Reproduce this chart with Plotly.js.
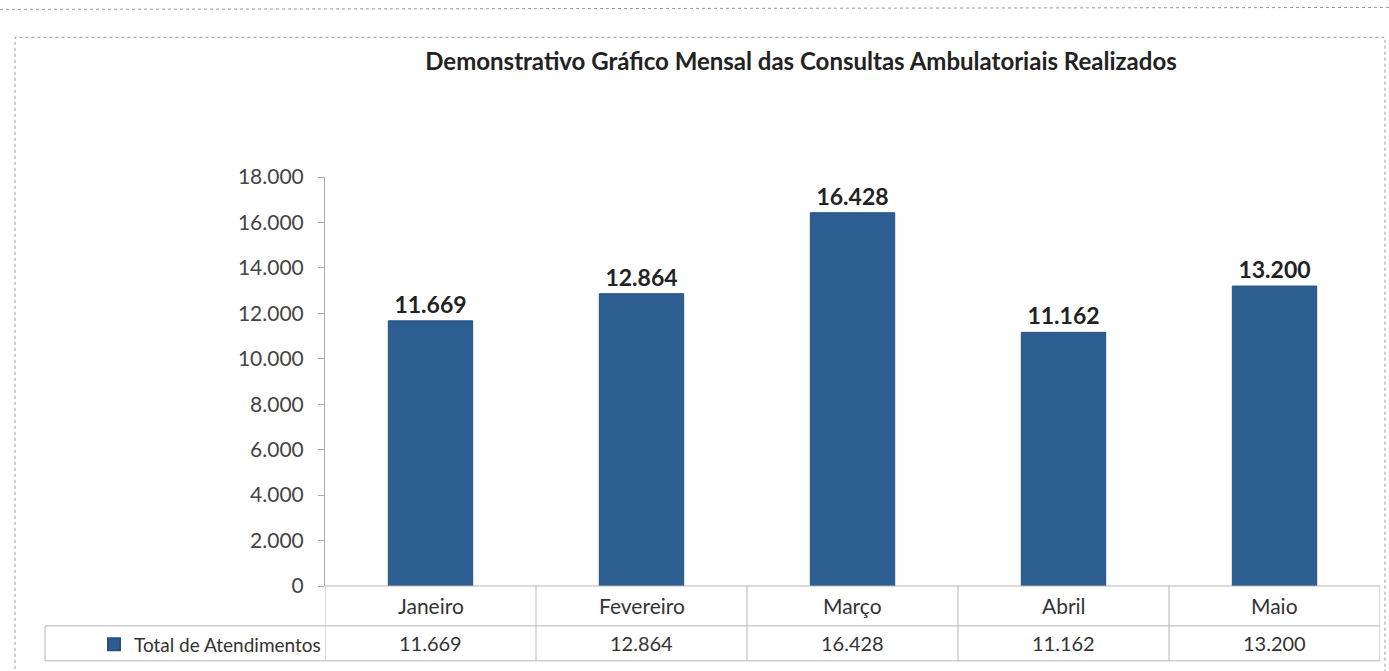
<!DOCTYPE html>
<html><head><meta charset="utf-8">
<script src="https://cdn.plot.ly/plotly-3.0.1.min.js"></script>
<style>html,body{margin:0;padding:0;background:#fff}#c{width:1389px;height:671px}</style>
</head><body><div id="c"></div>
<script>
const months = ["Janeiro","Fevereiro","Março","Abril","Maio"];
const totals = [11669, 12864, 16428, 11162, 13200];
const seriesName = "Total de Atendimentos";
const yTicks = [0,2000,4000,6000,8000,10000,12000,14000,16000,18000];
const titleText = "Demonstrativo Gráfico Mensal das Consultas Ambulatoriais Realizados";

const W = 1389, H = 671, mL = 325, mR = 9, mT = 177, mB = 84;
const pw = W - mL - mR, ph = H - mT - mB;
const px = x => (x - mL) / pw;           // pixel -> paper x
const py = y => (H - mB - y) / ph;       // pixel -> paper y
const FONT = "Lato, 'Open Sans', sans-serif";
const grid = {color: "#b5b5b5", width: 1};

const shapes = [];
shapes.push({type:"rect", xref:"paper", yref:"paper", x0:px(15), x1:px(1385), y0:py(690), y1:py(37),
  line:{color:"#9a9a9a", width:1, dash:"dot"}});
shapes.push({type:"line", xref:"paper", yref:"paper", x0:px(0), x1:px(1389), y0:py(9), y1:py(7),
  line:{color:"#9a9a9a", width:1, dash:"dot"}});
const hTop = 0, hMid = py(627), hBot = py(662);
shapes.push({type:"line", xref:"paper", yref:"paper", x0:0, x1:1, y0:hTop, y1:hTop, line:grid});
shapes.push({type:"line", xref:"paper", yref:"paper", x0:px(45), x1:1, y0:hMid, y1:hMid, line:grid});
shapes.push({type:"line", xref:"paper", yref:"paper", x0:px(45), x1:1, y0:hBot, y1:hBot, line:grid});
shapes.push({type:"line", xref:"paper", yref:"paper", x0:px(45), x1:px(45), y0:hMid, y1:hBot, line:grid});
for (let i = 0; i <= months.length; i++) {
  shapes.push({type:"line", xref:"x", yref:"paper", x0:i-0.5, x1:i-0.5, y0:hBot, y1:hTop, line:grid});
}

const annotations = [];
months.forEach((m, i) => {
  annotations.push({xref:"x", yref:"paper", x:i, y:(hTop+hMid)/2, text:m, showarrow:false,
    font:{family:FONT, size:21, color:"#333"}, yanchor:"middle"});
  annotations.push({xref:"x", yref:"paper", x:i, y:(hMid+hBot)/2,
    text: totals[i].toLocaleString("de-DE"), showarrow:false,
    font:{family:FONT, size:20, color:"#333"}, yanchor:"middle"});
});

const trace = {
  type:"bar", x:months, y:totals, name:seriesName, width:0.4,
  marker:{color:"#2d5e92", line:{color:"#25517f", width:1}},
  texttemplate:"%{y:,}", textposition:"outside", cliponaxis:false,
  textfont:{family:FONT, size:23, color:"#222", weight:"bold"},
  showlegend:true
};

const layout = {
  width:W, height:H, separators:",.",
  margin:{l:mL, r:mR, t:mT, b:mB, pad:0},
  paper_bgcolor:"#fff", plot_bgcolor:"rgba(0,0,0,0)",
  title:{text:titleText, x:px(801), xref:"paper", xanchor:"center", y:1-62/H, yref:"container", yanchor:"middle",
    font:{family:FONT, size:24, color:"#222", weight:"bold"}},
  xaxis:{type:"category", showticklabels:false, showline:false, showgrid:false, zeroline:false,
    range:[-0.5, months.length-0.5], fixedrange:true},
  yaxis:{range:[0,18000], tickvals:yTicks, tickformat:",d", showgrid:false, zeroline:false,
    showline:true, linecolor:"#aaa", linewidth:1, ticks:"outside", ticklen:6, tickcolor:"#aaa",
    tickfont:{family:FONT, size:21, color:"#444"}, ticklabelstandoff:10},
  bargap:0.6,
  showlegend:true,
  legend:{x:px(94), y:(hMid+hBot)/2, xanchor:"left", yanchor:"middle", xref:"paper", yref:"paper",
    bgcolor:"rgba(0,0,0,0)", font:{family:FONT, size:19, color:"#333"}, itemwidth:30, itemsizing:"constant"},
  shapes, annotations
};
Plotly.newPlot("c", [trace], layout, {displayModeBar:false, staticPlot:true});
</script>
</body></html>
